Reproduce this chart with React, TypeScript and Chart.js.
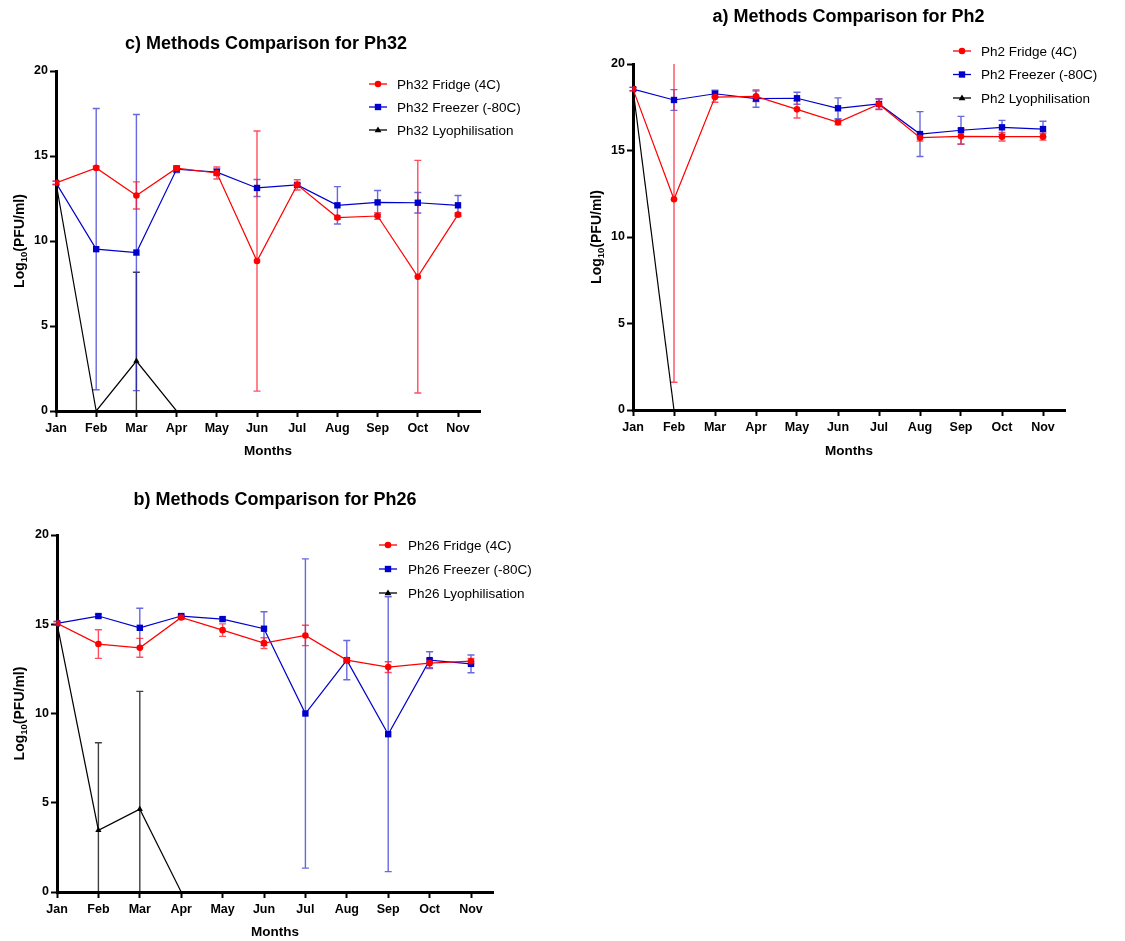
import React, { useEffect, useRef } from "react";
import { Chart, registerables } from "chart.js";

Chart.register(...registerables);

const FONT = "'Liberation Sans', Arial, Helvetica, sans-serif";
Chart.defaults.font.family = FONT;
Chart.defaults.color = "#000";

// ---------- DATA ----------
const months = ["Jan", "Feb", "Mar", "Apr", "May", "Jun", "Jul", "Aug", "Sep", "Oct", "Nov"];
const yTicks = [0, 5, 10, 15, 20];

// c) Ph32
const ph32Fridge = [13.42, 14.3, 12.68, 14.28, 14.0, 8.82, 13.3, 11.38, 11.47, 7.9, 11.55];
const ph32FridgeErr = [0.1, 0.1, 0.8, 0.15, 0.35, 7.65, 0.3, 0.1, 0.2, 6.84, 0.1];
const ph32Freezer = [13.42, 9.52, 9.32, 14.22, 14.05, 13.12, 13.3, 12.1, 12.27, 12.25, 12.1];
const ph32FreezerErr = [0.1, 8.27, 8.12, 0.2, 0.2, 0.5, 0.1, 1.1, 0.7, 0.6, 0.58];
const ph32Lyo = [13.42, 0, 2.94, 0, null, null, null, null, null, null, null];
const ph32LyoErr = [0, 0, 5.22, 0, 0, 0, 0, 0, 0, 0, 0];

// a) Ph2
const ph2Fridge = [18.55, 12.18, 18.09, 18.13, 17.38, 16.63, 17.67, 15.74, 15.82, 15.8, 15.8];
const ph2FridgeErr = [0.1, 10.58, 0.3, 0.3, 0.5, 0.15, 0.3, 0.2, 0.45, 0.25, 0.2];
const ph2Freezer = [18.55, 17.92, 18.28, 18.0, 18.02, 17.44, 17.69, 15.95, 16.17, 16.34, 16.24];
const ph2FreezerErr = [0.1, 0.6, 0.2, 0.5, 0.35, 0.6, 0.3, 1.3, 0.8, 0.4, 0.45];
const ph2Lyo = [18.55, 0, null, null, null, null, null, null, null, null, null];
const ph2LyoErr = [0, 0, 0, 0, 0, 0, 0, 0, 0, 0, 0];

// b) Ph26
const ph26Fridge = [15.05, 13.89, 13.68, 15.38, 14.67, 13.94, 14.37, 12.99, 12.6, 12.82, 12.93];
const ph26FridgeErr = [0.1, 0.8, 0.53, 0.1, 0.35, 0.3, 0.57, 0.1, 0.3, 0.25, 0.15];
const ph26Freezer = [15.05, 15.46, 14.8, 15.46, 15.29, 14.75, 10.0, 12.99, 8.84, 12.99, 12.78];
const ph26FreezerErr = [0.1, 0.1, 1.1, 0.1, 0.1, 0.95, 8.66, 1.1, 7.7, 0.47, 0.5];
const ph26Lyo = [15.05, 3.46, 4.64, 0, null, null, null, null, null, null, null];
const ph26LyoErr = [0, 4.9, 6.6, 0, 0, 0, 0, 0, 0, 0, 0];

// ---------- STYLE / LAYOUT ----------
const RED = "#ff0000";
const BLUE = "#0000cc";
const BLACK = "#000000";
const RED_ERR = "rgba(255,20,40,0.75)";
const BLUE_ERR = "rgba(40,40,210,0.7)";
const BLACK_ERR = "rgba(0,0,0,0.75)";

type Panel = {
  title: string;
  phage: string;
  fridge: (number | null)[];
  fridgeErr: number[];
  freezer: (number | null)[];
  freezerErr: number[];
  lyo: (number | null)[];
  lyoErr: number[];
  box: { left: number; top: number; width: number; height: number };
  L: number; R: number; T: number; B: number; novX: number;
  titleX: number; titleY: number;
  legLineX: number; legTextX: number; legY: number; legGap: number;
  yTitleX: number; monthsY: number;
};

const panels: Panel[] = [
  {
    title: "c) Methods Comparison for Ph32", phage: "Ph32",
    fridge: ph32Fridge, fridgeErr: ph32FridgeErr, freezer: ph32Freezer, freezerErr: ph32FreezerErr,
    lyo: ph32Lyo, lyoErr: ph32LyoErr,
    box: { left: 0, top: 0, width: 570, height: 470 },
    L: 56, R: 480, T: 71, B: 411, novX: 458,
    titleX: 266, titleY: 44, legLineX: 369, legTextX: 397, legY: 84, legGap: 23,
    yTitleX: 19, monthsY: 451,
  },
  {
    title: "a) Methods Comparison for Ph2", phage: "Ph2",
    fridge: ph2Fridge, fridgeErr: ph2FridgeErr, freezer: ph2Freezer, freezerErr: ph2FreezerErr,
    lyo: ph2Lyo, lyoErr: ph2LyoErr,
    box: { left: 575, top: 0, width: 550, height: 470 },
    L: 58, R: 490, T: 64, B: 410, novX: 468,
    titleX: 273.5, titleY: 17, legLineX: 378, legTextX: 406, legY: 51, legGap: 23.5,
    yTitleX: 21, monthsY: 451,
  },
  {
    title: "b) Methods Comparison for Ph26", phage: "Ph26",
    fridge: ph26Fridge, fridgeErr: ph26FridgeErr, freezer: ph26Freezer, freezerErr: ph26FreezerErr,
    lyo: ph26Lyo, lyoErr: ph26LyoErr,
    box: { left: 0, top: 470, width: 590, height: 471 },
    L: 57, R: 493, T: 65, B: 422, novX: 471,
    titleX: 275, titleY: 30, legLineX: 379, legTextX: 408, legY: 75, legGap: 24,
    yTitleX: 19, monthsY: 462.7,
  },
];

type Series = {
  label: string; values: (number | null)[]; errs: number[];
  color: string; errColor: string; style: string; radius: number;
};

function buildSeries(p: Panel): Series[] {
  return [
    { label: `${p.phage} Fridge (4C)`, values: p.fridge, errs: p.fridgeErr, color: RED, errColor: RED_ERR, style: "circle", radius: 3.3 },
    { label: `${p.phage} Freezer (-80C)`, values: p.freezer, errs: p.freezerErr, color: BLUE, errColor: BLUE_ERR, style: "rect", radius: 4.5 },
    { label: `${p.phage} Lyophilisation`, values: p.lyo, errs: p.lyoErr, color: BLACK, errColor: BLACK_ERR, style: "triangle", radius: 3.6 },
  ];
}

function drawMarker(ctx: CanvasRenderingContext2D, style: string, x: number, y: number, r: number, color: string) {
  ctx.save();
  ctx.fillStyle = color;
  ctx.beginPath();
  if (style === "circle") {
    ctx.arc(x, y, r, 0, Math.PI * 2);
  } else if (style === "rect") {
    const s = r * Math.SQRT1_2;
    ctx.rect(x - s, y - s, 2 * s, 2 * s);
  } else {
    ctx.moveTo(x, y - r);
    ctx.lineTo(x + r * 0.95, y + r * 0.6);
    ctx.lineTo(x - r * 0.95, y + r * 0.6);
    ctx.closePath();
  }
  ctx.fill();
  ctx.restore();
}

function makePlugin(p: Panel, series: Series[]) {
  return {
    id: "decor",
    beforeDatasetsDraw(chart: any) {
      const ctx: CanvasRenderingContext2D = chart.ctx;
      const xs = chart.scales.x, ys = chart.scales.y;
      const { left, right, top, bottom } = chart.chartArea;
      ctx.save();
      ctx.beginPath();
      ctx.rect(left - 10, top, right - left + 20, bottom - top);
      ctx.clip();
      [...series].reverse().forEach((s) => {
        s.values.forEach((v, i) => {
          const e = s.errs[i];
          if (v === null || v === undefined || !e) return;
          const x = xs.getPixelForValue(i);
          const y1 = ys.getPixelForValue(v + e);
          const y2 = ys.getPixelForValue(v - e);
          ctx.strokeStyle = s.errColor;
          ctx.lineWidth = 1.4;
          ctx.beginPath();
          ctx.moveTo(x, y1); ctx.lineTo(x, y2);
          ctx.moveTo(x - 3.5, y1); ctx.lineTo(x + 3.5, y1);
          ctx.moveTo(x - 3.5, y2); ctx.lineTo(x + 3.5, y2);
          ctx.stroke();
        });
      });
      ctx.restore();
    },
    afterDraw(chart: any) {
      const ctx: CanvasRenderingContext2D = chart.ctx;
      const { top, bottom } = chart.chartArea;
      ctx.save();
      // title
      ctx.fillStyle = "#000";
      ctx.font = `bold 18px ${FONT}`;
      ctx.textAlign = "center";
      ctx.textBaseline = "middle";
      ctx.fillText(p.title, p.titleX, p.titleY);
      // legend
      series.forEach((s, k) => {
        const y = p.legY + k * p.legGap;
        ctx.strokeStyle = s.color;
        ctx.lineWidth = 1.3;
        ctx.beginPath();
        ctx.moveTo(p.legLineX, y);
        ctx.lineTo(p.legLineX + 18, y);
        ctx.stroke();
        drawMarker(ctx, s.style, p.legLineX + 9, y, s.radius, s.color);
        ctx.fillStyle = "#000";
        ctx.font = `13.5px ${FONT}`;
        ctx.textAlign = "left";
        ctx.textBaseline = "middle";
        ctx.fillText(s.label, p.legTextX, y + 1);
      });
      // y axis title with subscript
      const cy = (top + bottom) / 2;
      ctx.translate(p.yTitleX, cy);
      ctx.rotate(-Math.PI / 2);
      ctx.textAlign = "left";
      ctx.textBaseline = "alphabetic";
      const big = `bold 14px ${FONT}`;
      const small = `bold 9.5px ${FONT}`;
      ctx.font = big;
      const w1 = ctx.measureText("Log").width;
      const w3 = ctx.measureText("(PFU/ml)").width;
      ctx.font = small;
      const w2 = ctx.measureText("10").width;
      const x0 = -(w1 + w2 + w3) / 2;
      ctx.fillStyle = "#000";
      ctx.font = big;
      ctx.fillText("Log", x0, 5);
      ctx.font = small;
      ctx.fillText("10", x0 + w1, 8);
      ctx.font = big;
      ctx.fillText("(PFU/ml)", x0 + w1 + w2, 5);
      ctx.restore();
    },
  };
}

function makeConfig(p: Panel): any {
  const series = buildSeries(p);
  const xmax = (10 * (p.R - p.L)) / (p.novX - p.L);
  const ch = p.box.height;
  const monthsPad = ch - p.monthsY - (13.5 * 1.2) / 2;
  return {
    type: "line",
    data: {
      datasets: series.map((s) => ({
        label: s.label,
        data: s.values
          .map((v, i) => (v === null ? null : { x: i, y: v }))
          .filter((d) => d !== null),
        borderColor: s.color,
        backgroundColor: s.color,
        borderWidth: 1.2,
        pointStyle: s.style,
        pointRadius: (c: any) => (c.raw && c.raw.y === 0 ? 0 : s.radius),
        pointBorderWidth: 0,
        pointBackgroundColor: s.color,
        tension: 0,
      })),
    },
    options: {
      responsive: false,
      animation: false,
      devicePixelRatio: 1,
      layout: { padding: { top: p.T, right: p.box.width - p.R, bottom: 0, left: 0 } },
      plugins: { legend: { display: false }, title: { display: false }, tooltip: { enabled: false } },
      scales: {
        x: {
          type: "linear",
          min: 0,
          max: xmax,
          afterBuildTicks: (scale: any) => {
            scale.ticks = months.map((_, i) => ({ value: i }));
          },
          afterFit: (scale: any) => {
            scale.height = ch - p.B;
          },
          ticks: {
            includeBounds: false,
            autoSkip: false,
            maxRotation: 0,
            padding: 4,
            color: "#000",
            font: { size: 12.5, weight: "bold" },
            callback: (v: number) => months[Math.round(v)] ?? "",
          },
          grid: { drawOnChartArea: false, drawTicks: true, tickLength: 6, tickWidth: 2, tickColor: "#000", color: "#000" },
          border: { display: true, color: "#000", width: 3 },
          title: {
            display: true,
            text: "Months",
            color: "#000",
            font: { size: 13.5, weight: "bold" },
            padding: { top: 0, bottom: monthsPad },
          },
        },
        y: {
          min: 0,
          max: 20,
          afterBuildTicks: (scale: any) => {
            scale.ticks = yTicks.map((v) => ({ value: v }));
          },
          afterFit: (scale: any) => {
            scale.width = p.L;
          },
          ticks: {
            padding: 2,
            color: "#000",
            font: { size: 12.5, weight: "bold" },
          },
          grid: { drawOnChartArea: false, drawTicks: true, tickLength: 6, tickWidth: 2, tickColor: "#000", color: "#000" },
          border: { display: true, color: "#000", width: 3 },
          title: { display: false },
        },
      },
    },
    plugins: [makePlugin(p, series)],
  };
}

function PanelChart({ p }: { p: Panel }) {
  const ref = useRef<HTMLCanvasElement | null>(null);
  useEffect(() => {
    if (!ref.current) return;
    const chart = new Chart(ref.current, makeConfig(p));
    return () => chart.destroy();
  }, [p]);
  return (
    <canvas
      ref={ref}
      width={p.box.width}
      height={p.box.height}
      style={{
        position: "absolute",
        left: p.box.left,
        top: p.box.top,
        width: p.box.width,
        height: p.box.height,
      }}
    />
  );
}

export default function App() {
  return (
    <div style={{ position: "absolute", left: 0, top: 0, width: 1125, height: 941, background: "#fff", overflow: "hidden" }}>
      {panels.map((p) => (
        <PanelChart key={p.title} p={p} />
      ))}
    </div>
  );
}
